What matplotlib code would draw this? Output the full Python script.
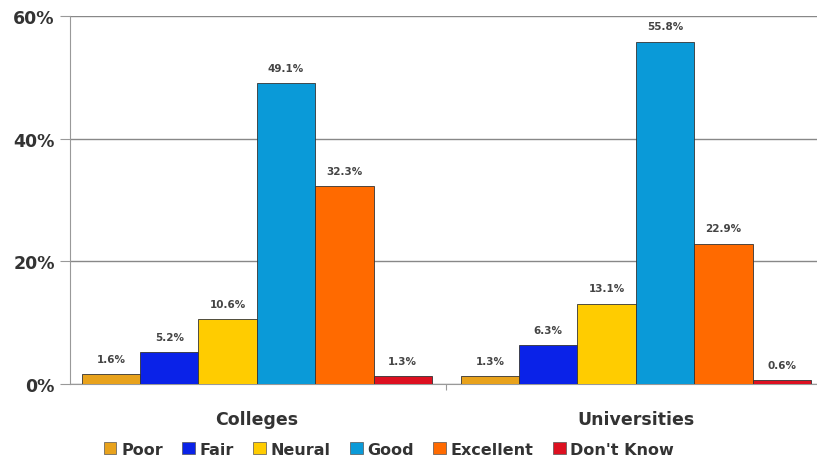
import numpy as np
import matplotlib
matplotlib.use("Agg")
import matplotlib.pyplot as plt
from matplotlib.patches import Patch

groups = ["Colleges", "Universities"]
ratings = ["Poor", "Fair", "Neural", "Good", "Excellent", "Don't Know"]
colleges = [1.6, 5.2, 10.6, 49.1, 32.3, 1.3]
universities = [1.3, 6.3, 13.1, 55.8, 22.9, 0.6]
colors = ["#E8A21C", "#0A22E8", "#FFCC00", "#0A9AD8", "#FF6A00", "#DD1020"]

values = np.array([colleges, universities])

fig = plt.figure(figsize=(8.17, 4.64), dpi=100)
ax = fig.add_axes([0.0857, 0.170, 0.9143, 0.793])

x = np.arange(len(groups))
n = len(ratings)
width = 0.154
for i, (name, col) in enumerate(zip(ratings, colors)):
    pos = x + (i - (n - 1) / 2) * width
    bars = ax.bar(pos, values[:, i], width, color=col, edgecolor="#333333",
                  linewidth=0.6, zorder=3, label=name)
    # value label above each bar
    for b, v in zip(bars, values[:, i]):
        ax.text(b.get_x() + b.get_width() / 2, v + 1.7, f"{v:.1f}%",
                ha="center", va="bottom", fontsize=7.5, fontweight="bold",
                color="#444444", zorder=4)

ax.set_xlim(-0.493, 1.478)
ax.set_ylim(0, 60)
ax.set_yticks([0, 20, 40, 60])
ax.set_yticklabels(["0%", "20%", "40%", "60%"], fontsize=12.5,
                   fontweight="bold", color="#333333")
ax.yaxis.grid(True, color="#888888", linewidth=1.0, zorder=0)
ax.set_axisbelow(True)

ax.set_xticks([0.5])
ax.set_xticklabels([""])
ax.tick_params(axis="x", length=4, color="#999999")
ax.tick_params(axis="y", length=7, color="#999999", pad=4)
for g, xc in zip(groups, x):
    ax.text(xc, -4.2, g, ha="center", va="top", fontsize=12.5,
            fontweight="bold", color="#333333")

for side in ["top", "right"]:
    ax.spines[side].set_visible(False)
ax.spines["left"].set_color("#999999")
ax.spines["bottom"].set_color("#999999")

handles = [Patch(facecolor=c, edgecolor="#555555", linewidth=0.5) for c in colors]
fig.legend(handles, ratings, loc="center", bbox_to_anchor=(0.476, 0.03),
           ncol=6, frameon=False, handlelength=0.8, handleheight=0.8,
           handletextpad=0.3, columnspacing=1.2,
           prop={"size": 11.5, "weight": "bold"}, labelcolor="#333333")

fig.savefig("out.png", dpi=100)
